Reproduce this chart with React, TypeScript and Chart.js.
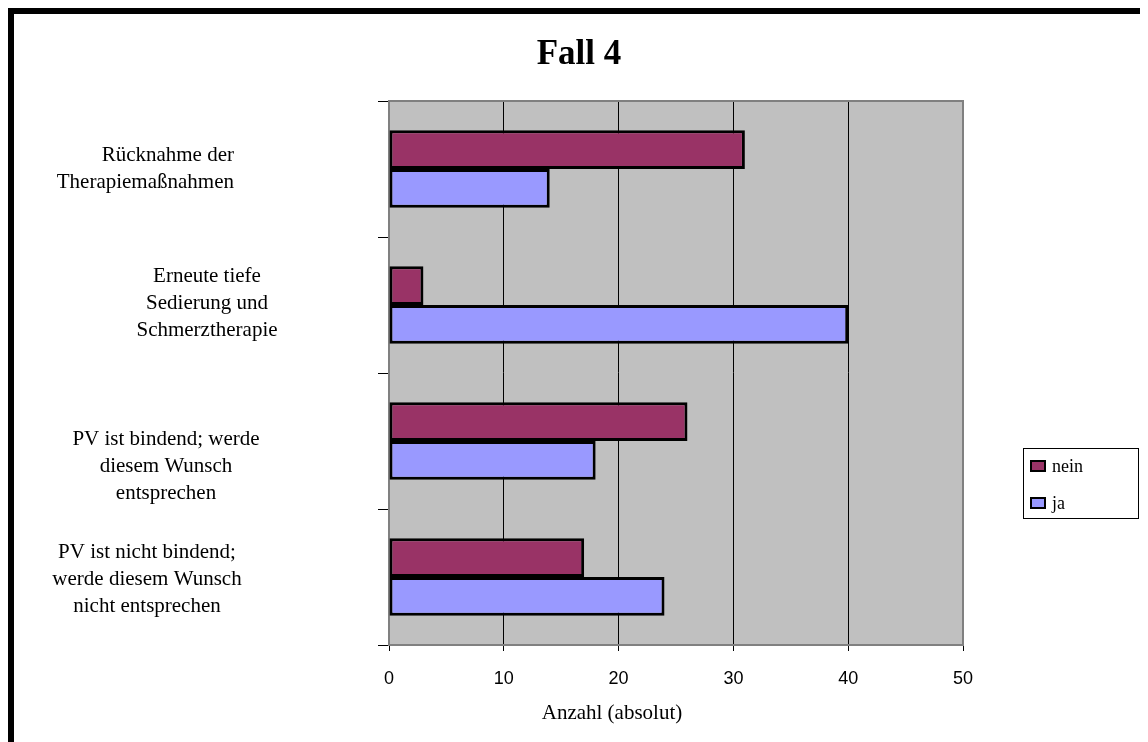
import React, { useEffect, useRef } from "react";
import { Chart, registerables } from "chart.js";

Chart.register(...registerables);

// ---- data ----
const chartTitle = "Fall 4";
const xAxisTitle = "Anzahl (absolut)";
const categories: string[][] = [
  ["Rücknahme der", "Therapiemaßnahmen"],
  ["Erneute tiefe", "Sedierung und", "Schmerztherapie"],
  ["PV ist bindend; werde", "diesem Wunsch", "entsprechen"],
  ["PV ist nicht bindend;", "werde diesem Wunsch", "nicht entsprechen"],
];
const seriesNames = ["nein", "ja"];
const neinValues = [31, 3, 26, 17];
const jaValues = [14, 40, 18, 24];
const xMin = 0;
const xMax = 50;
const xStep = 10;

// ---- style / layout ----
const SERIF = '"Liberation Serif", "Times New Roman", serif';
const SANS = '"Liberation Sans", Arial, sans-serif';
const COLORS = ["#993366", "#9999FF"];
const CANVAS_W = 1134;
const CANVAS_H = 728;
const AREA = { left: 375, right: 949, top: 87, bottom: 631 };
const LABEL_ANCHOR_X = [220, 193, 152, 133];
const LABEL_ALIGN: CanvasTextAlign[] = ["right", "center", "center", "center"];
const LABEL_DY = [0, -2, 25, 2];
const LABEL_LINE_H = 27;

const decor = {
  id: "decor",
  beforeDraw(chart: any) {
    const { ctx, chartArea: a } = chart;
    ctx.save();
    ctx.fillStyle = "#ffffff";
    ctx.fillRect(0, 0, chart.width, chart.height);
    ctx.fillStyle = "#C0C0C0";
    ctx.fillRect(a.left, a.top, a.right - a.left, a.bottom - a.top);
    ctx.restore();
  },
  beforeDatasetsDraw(chart: any) {
    const { ctx, chartArea: a } = chart;
    ctx.save();
    ctx.strokeStyle = "#808080";
    ctx.lineWidth = 2;
    ctx.beginPath();
    ctx.moveTo(a.left, a.top);
    ctx.lineTo(a.right, a.top);
    ctx.lineTo(a.right, a.bottom);
    ctx.stroke();
    ctx.restore();
  },
  afterDraw(chart: any) {
    const { ctx } = chart;
    const yScale = chart.scales.y;
    ctx.save();
    ctx.fillStyle = "#000";
    // title
    ctx.font = `bold 35px ${SERIF}`;
    ctx.textAlign = "center";
    ctx.textBaseline = "middle";
    ctx.fillText(chartTitle, 565, 41);

    // category labels
    ctx.font = `21px ${SERIF}`;
    const labels = chart.data.labels as string[][];
    labels.forEach((lines, i) => {
      const cy = yScale.getPixelForValue(i) + LABEL_DY[i];
      const start = cy - ((lines.length - 1) * LABEL_LINE_H) / 2;
      ctx.textAlign = LABEL_ALIGN[i];
      lines.forEach((ln, j) => {
        ctx.fillText(ln, LABEL_ANCHOR_X[i], start + j * LABEL_LINE_H);
      });
    });

    // x axis title
    ctx.textAlign = "center";
    ctx.font = `21px ${SERIF}`;
    ctx.fillText(xAxisTitle, 598, 699);

    // legend
    const lx = 1009, ly = 434, lw = 115, lh = 70;
    ctx.strokeStyle = "#000";
    ctx.lineWidth = 1;
    ctx.strokeRect(lx + 0.5, ly + 0.5, lw, lh);
    ctx.font = `18px ${SERIF}`;
    ctx.textAlign = "left";
    chart.data.datasets.forEach((ds: any, i: number) => {
      const ry = ly + 18 + i * 37;
      ctx.fillStyle = ds.backgroundColor;
      ctx.fillRect(lx + 8, ry - 5, 14, 10);
      ctx.strokeStyle = "#000";
      ctx.lineWidth = 2;
      ctx.strokeRect(lx + 8, ry - 5, 14, 10);
      ctx.fillStyle = "#000";
      ctx.fillText(ds.label, lx + 29, ry + 1);
    });
    ctx.restore();
  },
};

export default function App() {
  const ref = useRef<HTMLCanvasElement | null>(null);
  useEffect(() => {
    if (!ref.current) return;
    const chart = new Chart(ref.current, {
      type: "bar",
      data: {
        labels: categories as any,
        datasets: [
          {
            label: seriesNames[0],
            data: neinValues,
            backgroundColor: COLORS[0],
            borderColor: "#000",
            borderWidth: 3,
            borderSkipped: false,
          },
          {
            label: seriesNames[1],
            data: jaValues,
            backgroundColor: COLORS[1],
            borderColor: "#000",
            borderWidth: 3,
            borderSkipped: false,
          },
        ],
      },
      options: {
        indexAxis: "y",
        responsive: false,
        animation: false,
        devicePixelRatio: 1,
        categoryPercentage: 2 / 3.5,
        barPercentage: 1,
        layout: {
          padding: { top: AREA.top, right: CANVAS_W - AREA.right, left: 0, bottom: 0 },
        },
        plugins: {
          legend: { display: false },
          title: { display: false },
          tooltip: { enabled: false },
        },
        scales: {
          x: {
            type: "linear",
            min: xMin,
            max: xMax,
            ticks: {
              stepSize: xStep,
              color: "#000",
              font: { family: SANS, size: 18 },
              padding: 17,
            },
            grid: {
              color: "#000",
              lineWidth: 1,
              drawOnChartArea: true,
              drawTicks: true,
              tickLength: 6,
            },
            border: { display: true, color: "#808080", width: 2 },
            afterFit(scale: any) {
              scale.height = CANVAS_H - AREA.bottom;
            },
          },
          y: {
            type: "category",
            offset: true,
            ticks: { display: false },
            grid: {
              offset: true,
              drawOnChartArea: false,
              drawTicks: true,
              tickLength: 11,
              color: "#000",
              lineWidth: 1,
            },
            border: { display: true, color: "#808080", width: 2 },
            afterFit(scale: any) {
              scale.width = AREA.left;
            },
          },
        },
      },
      plugins: [decor],
    } as any);
    return () => chart.destroy();
  }, []);

  return (
    <div
      style={{
        borderTop: "6px solid #000",
        borderLeft: "6px solid #000",
        width: CANVAS_W,
        height: CANVAS_H,
        overflow: "hidden",
      }}
    >
      <canvas
        ref={ref}
        width={CANVAS_W}
        height={CANVAS_H}
        style={{ display: "block", width: CANVAS_W, height: CANVAS_H }}
      />
    </div>
  );
}
